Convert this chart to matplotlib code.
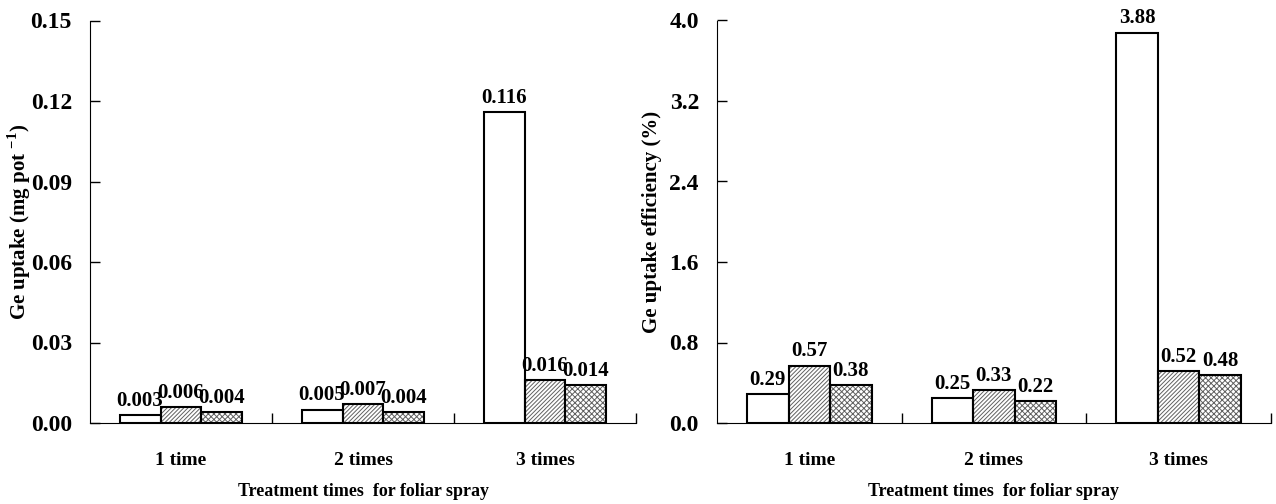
import numpy as np
import matplotlib
matplotlib.use("Agg")
import matplotlib.pyplot as plt
import matplotlib.ticker as mticker

plt.rcParams['font.family'] = ['Liberation Serif', 'DejaVu Serif']
plt.rcParams['font.weight'] = 'bold'
plt.rcParams['axes.labelweight'] = 'bold'
plt.rcParams['mathtext.fontset'] = 'custom'
plt.rcParams['mathtext.rm'] = 'Liberation Serif:bold'
plt.rcParams['mathtext.bf'] = 'Liberation Serif:bold'
plt.rcParams['hatch.linewidth'] = 0.7

categories = ['1 time', '2 times', '3 times']
xlabel = 'Treatment times  for foliar spray'

# left panel: Ge uptake (mg pot-1)
uptake_a = [0.003, 0.005, 0.116]
uptake_b = [0.006, 0.007, 0.016]
uptake_c = [0.004, 0.004, 0.014]
uptake_labels = [['0.003', '0.005', '0.116'],
                 ['0.006', '0.007', '0.016'],
                 ['0.004', '0.004', '0.014']]

# right panel: Ge uptake efficiency (%)
eff_a = [0.29, 0.25, 3.88]
eff_b = [0.57, 0.33, 0.52]
eff_c = [0.38, 0.22, 0.48]
eff_labels = [['0.29', '0.25', '3.88'],
              ['0.57', '0.33', '0.52'],
              ['0.38', '0.22', '0.48']]

hatches = [None, '////////', 'xxxxxx']
W = 1276 / 100.0
H = 504 / 100.0
fig = plt.figure(figsize=(W, H), dpi=100)

def panel(rect, series, labels, ymax, ystep, fmt, ylab, ylab_x):
    ax = fig.add_axes(rect)
    x = np.arange(len(categories))
    bw = 0.225
    for i, vals in enumerate(series):
        pos = x + (i - 1) * bw
        if hatches[i] is not None:
            ax.bar(pos, vals, bw, color='white', edgecolor='#606060',
                   hatch=hatches[i], linewidth=0, zorder=2)
        bars = ax.bar(pos, vals, bw, color='none', edgecolor='black',
                      linewidth=1.5, zorder=3)
        ax.bar_label(bars, labels=labels[i], padding=3, fontsize=15,
                     fontweight='bold')
    ax.set_xlim(-0.5, 2.5)
    ax.set_ylim(0, ymax)
    ax.yaxis.set_major_locator(mticker.MultipleLocator(ystep))
    ax.yaxis.set_major_formatter(mticker.FormatStrFormatter(fmt))
    ax.set_xticks(x)
    ax.set_xticklabels(categories, fontsize=14)
    ax.set_xticks([0.5, 1.5, 2.5], minor=True)
    ax.tick_params(axis='x', which='major', length=0, pad=21)
    ax.tick_params(axis='x', which='minor', direction='in', length=7, width=1)
    ax.tick_params(axis='y', direction='in', length=7, width=1, pad=13,
                   labelsize=17)
    ax.spines['top'].set_visible(False)
    ax.spines['right'].set_visible(False)
    ax.set_ylabel(ylab, fontsize=15)
    ax.yaxis.set_label_coords(ylab_x, 0.5)
    # x axis title sits near the bottom edge of the figure
    fig.text(rect[0] + rect[2] / 2, 1 - 492 / 504, xlabel, fontsize=13,
             fontweight='bold', ha='center', va='center')
    return ax

panel([90 / 1276, 1 - 423 / 504, 546 / 1276, 402.5 / 504],
      [uptake_a, uptake_b, uptake_c], uptake_labels, 0.15, 0.03, '%.2f',
      r'Ge uptake (mg pot $^{-1}$)', -0.104)
panel([717 / 1276, 1 - 423 / 504, 554 / 1276, 402.5 / 504],
      [eff_a, eff_b, eff_c], eff_labels, 4.0, 0.8, '%.1f',
      'Ge uptake efficiency (%)', -0.099)

fig.savefig('out.png', dpi=100)
